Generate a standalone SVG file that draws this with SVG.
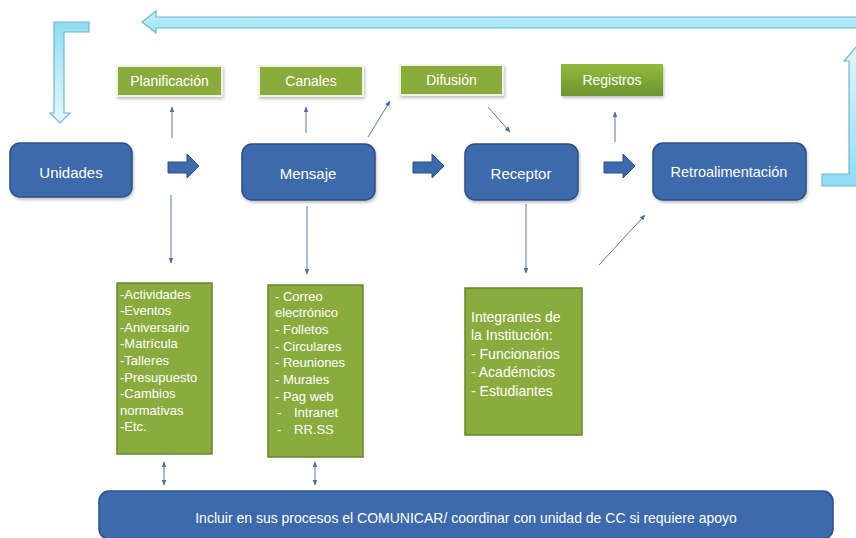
<svg xmlns="http://www.w3.org/2000/svg" width="856" height="538" viewBox="0 0 856 538">
  <defs>
    <linearGradient id="cyanDown" x1="0" y1="0" x2="0" y2="1">
      <stop offset="0" stop-color="#8edcf3"/>
      <stop offset="1" stop-color="#e6f8fd"/>
    </linearGradient>
    <linearGradient id="cyanUp" x1="0" y1="1" x2="0" y2="0">
      <stop offset="0" stop-color="#8edcf3"/>
      <stop offset="1" stop-color="#e2f7fd"/>
    </linearGradient>
    <linearGradient id="cyanBar" x1="0" y1="0" x2="0" y2="1">
      <stop offset="0" stop-color="#c4f0fb"/>
      <stop offset="1" stop-color="#9de2f5"/>
    </linearGradient>
    <linearGradient id="greenGrad" x1="0" y1="0" x2="0" y2="1">
      <stop offset="0" stop-color="#93bb3e"/>
      <stop offset="1" stop-color="#6b9430"/>
    </linearGradient>
    <filter id="shadow" x="-10%" y="-10%" width="130%" height="140%">
      <feDropShadow dx="1" dy="2" stdDeviation="1.5" flood-color="#000" flood-opacity="0.25"/>
    </filter>
    <marker id="tip" viewBox="0 0 10 10" refX="9" refY="5" markerWidth="6" markerHeight="6" orient="auto-start-reverse" markerUnits="userSpaceOnUse">
      <path d="M0,1 L10,5 L0,9 Z" fill="#4a6ea8"/>
    </marker>
  </defs>
  <style>
    .blue { fill: #3d69ad; stroke: #2c4f86; stroke-width: 1.5; }
    .green { fill: #8aac3e; stroke: #f3f3e6; stroke-width: 2; }
    .gbox { fill: #8aac3e; stroke: #68862c; stroke-width: 1.5; }
    .blk { fill: #3d69ad; stroke: #2c4f86; stroke-width: 1; }
    .cyan { stroke: #6fb6cc; stroke-width: 1.2; }
    .ln { stroke: #5a78ab; stroke-width: 1; fill: none; marker-end: url(#tip); }
    .ln2 { stroke: #5a78ab; stroke-width: 1; fill: none; marker-end: url(#tip); marker-start: url(#tip); }
    text { font-family: "Liberation Sans", Arial, sans-serif; fill: #ffffff; }
    .big { font-size: 15px; text-anchor: middle; }
    .lbl { font-size: 14px; text-anchor: middle; }
    .lst { font-size: 13px; }
    .lst3 { font-size: 14px; }
  </style>

  <rect width="856" height="538" fill="#ffffff"/>

  <!-- feedback loop arrows -->
  <g id="loop">
    <path class="cyan" fill="url(#cyanBar)" d="M142,22 L156,11 L156,17 L862,17 L862,28 L156,28 L156,33 Z"/>
    <path class="cyan" fill="url(#cyanDown)" d="M54,22 L89,22 L89,32 L64,32 L64,113 L70,113 L60,123 L50,113 L54,113 Z"/>
    <path class="cyan" fill="url(#cyanUp)" d="M822,174 L849,174 L849,61 L844,61 L857,46 L870,61 L865,61 L865,186 L822,186 Z"/>
  </g>

  <!-- connectors -->
  <g id="connectors">
    <line class="ln" x1="172" y1="138" x2="172" y2="107"/>
    <line class="ln" x1="171" y1="195" x2="171" y2="263"/>
    <line class="ln" x1="306" y1="133" x2="306" y2="107"/>
    <line class="ln" x1="307" y1="206" x2="307" y2="274"/>
    <line class="ln" x1="368" y1="137" x2="390" y2="101"/>
    <line class="ln" x1="488" y1="107" x2="510" y2="132"/>
    <line class="ln" x1="615" y1="142" x2="615" y2="112"/>
    <line class="ln" x1="526" y1="204" x2="526" y2="273"/>
    <line class="ln" x1="599" y1="265" x2="645" y2="215"/>
    <line class="ln2" x1="164" y1="462" x2="164" y2="485"/>
    <line class="ln2" x1="315" y1="462" x2="315" y2="485"/>
    <path class="blk" d="M168,162 L187,162 L187,154 L199,166 L187,178 L187,173 L168,173 Z"/>
    <path class="blk" d="M413,162 L432,162 L432,154 L444,166 L432,178 L432,173 L413,173 Z"/>
    <path class="blk" d="M604,162 L623,162 L623,154 L635,166 L623,178 L623,173 L604,173 Z"/>
  </g>

  <!-- main process nodes -->
  <g id="unidades">
    <rect class="blue" x="10" y="143" width="122" height="54" rx="10" filter="url(#shadow)"/>
    <text class="big" x="71" y="177.5">Unidades</text>
  </g>
  <g id="mensaje">
    <rect class="blue" x="242" y="144" width="133" height="56" rx="10" filter="url(#shadow)"/>
    <text class="big" x="308" y="178.5">Mensaje</text>
  </g>
  <g id="receptor">
    <rect class="blue" x="465" y="144" width="113" height="56" rx="10" filter="url(#shadow)"/>
    <text class="big" x="521" y="178.5">Receptor</text>
  </g>
  <g id="retroalimentacion">
    <rect class="blue" x="653" y="143" width="153" height="57" rx="10" filter="url(#shadow)"/>
    <text class="lbl" x="729" y="177" style="font-size:14.5px">Retroalimentación</text>
  </g>

  <!-- stage labels -->
  <g id="planificacion">
    <rect class="green" x="117" y="66" width="105" height="30" filter="url(#shadow)"/>
    <text class="lbl" x="169.5" y="86">Planificación</text>
  </g>
  <g id="canales">
    <rect class="green" x="259" y="66" width="104" height="30" filter="url(#shadow)"/>
    <text class="lbl" x="311" y="86">Canales</text>
  </g>
  <g id="difusion">
    <rect class="green" x="400" y="65" width="103" height="30" filter="url(#shadow)"/>
    <text class="lbl" x="451.5" y="85">Difusión</text>
  </g>
  <g id="registros">
    <rect x="561" y="64" width="102" height="32" fill="url(#greenGrad)" filter="url(#shadow)"/>
    <text class="lbl" x="612" y="85">Registros</text>
  </g>

  <!-- detail lists -->
  <g id="lista-planificacion">
    <rect class="gbox" x="117" y="283" width="95" height="171"/>
    <text class="lst" x="120" y="298.5">
      <tspan x="120" dy="0">-Actividades</tspan>
      <tspan x="120" dy="16.6">-Eventos</tspan>
      <tspan x="120" dy="16.6">-Aniversario</tspan>
      <tspan x="120" dy="16.6">-Matrícula</tspan>
      <tspan x="120" dy="16.6">-Talleres</tspan>
      <tspan x="120" dy="16.6">-Presupuesto</tspan>
      <tspan x="120" dy="16.6">-Cambios</tspan>
      <tspan x="120" dy="16.6">normativas</tspan>
      <tspan x="120" dy="16.6">-Etc.</tspan>
    </text>
  </g>
  <g id="lista-canales">
    <rect class="gbox" x="268" y="285" width="95" height="172"/>
    <text class="lst" x="275" y="300.5">
      <tspan x="275" dy="0">- Correo</tspan>
      <tspan x="275" dy="16.7">electrónico</tspan>
      <tspan x="275" dy="16.7">- Folletos</tspan>
      <tspan x="275" dy="16.7">- Circulares</tspan>
      <tspan x="275" dy="16.7">- Reuniones</tspan>
      <tspan x="275" dy="16.7">- Murales</tspan>
      <tspan x="275" dy="16.7">- Pag web</tspan>
      <tspan x="277" dy="16.7">-</tspan><tspan x="294" dy="0">Intranet</tspan>
      <tspan x="277" dy="16.7">-</tspan><tspan x="294" dy="0">RR.SS</tspan>
    </text>
  </g>
  <g id="lista-receptor">
    <rect class="gbox" x="465" y="288" width="117" height="147"/>
    <text class="lst3" x="471" y="321.5">
      <tspan x="471" dy="0">Integrantes de</tspan>
      <tspan x="471" dy="18.5">la Institución:</tspan>
      <tspan x="471" dy="18.5">- Funcionarios</tspan>
      <tspan x="471" dy="18.5">- Académcios</tspan>
      <tspan x="471" dy="18.5">- Estudiantes</tspan>
    </text>
  </g>

  <!-- shared instruction bar -->
  <g id="incluir">
    <rect class="blue" x="99" y="491" width="734" height="48" rx="10"/>
    <text class="lbl" x="466" y="523">Incluir en sus procesos el COMUNICAR/ coordinar con unidad de CC si requiere apoyo</text>
  </g>
</svg>
